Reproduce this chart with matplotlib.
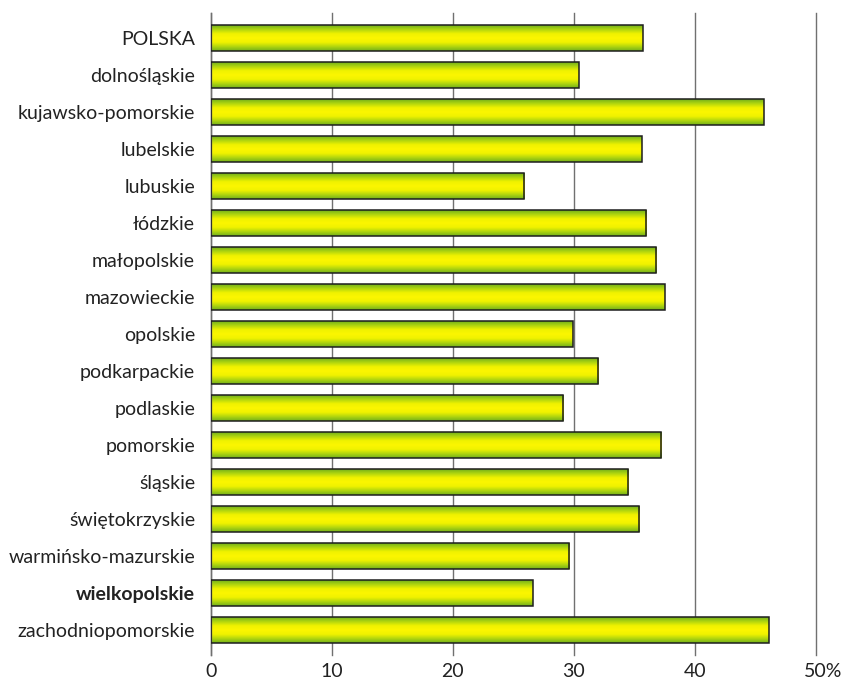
import numpy as np
import matplotlib
matplotlib.use("Agg")
import matplotlib.pyplot as plt
from matplotlib.colors import LinearSegmentedColormap
from matplotlib import transforms

# regions (top to bottom) and share in %
regions = ["POLSKA", "dolnośląskie", "kujawsko-pomorskie", "lubelskie", "lubuskie",
           "łódzkie", "małopolskie", "mazowieckie", "opolskie", "podkarpackie",
           "podlaskie", "pomorskie", "śląskie", "świętokrzyskie",
           "warmińsko-mazurskie", "wielkopolskie", "zachodniopomorskie"]
values = [35.7, 30.4, 45.7, 35.6, 25.9, 36.0, 36.8, 37.5, 29.9, 32.0,
          29.1, 37.2, 34.5, 35.4, 29.6, 26.6, 46.1]
xticks = [0, 10, 20, 30, 40, 50]
xtick_labels = ["0", "10", "20", "30", "40", "50%"]

plt.rcParams['font.family'] = ['Lato', 'DejaVu Sans']

fig = plt.figure(figsize=(8.43, 6.81), dpi=100)
ax = fig.add_axes([0.2503, 0.0382, 0.7175, 0.9427])

# green - yellow - green gradient
cmap = LinearSegmentedColormap.from_list(
    "bar", ["#72b01c", "#b2d60e", "#f0f200", "#fcf600", "#f0f200", "#b2d60e", "#72b01c"])
grad = np.linspace(0, 1, 64).reshape(-1, 1)

y = np.arange(len(regions))
h = 0.70
for yi, v in zip(y, values):
    ax.imshow(grad, extent=[0, v, yi + h / 2, yi - h / 2], aspect='auto',
              cmap=cmap, zorder=2, interpolation='bilinear')
ax.barh(y, values, height=h, color='none', edgecolor='#1e1e1e', linewidth=1.1, zorder=3)

ax.set_xlim(0, 50)
ax.set_ylim(len(regions) - 1 + 0.676, -0.676)

ax.set_xticks(xticks)
ax.set_xticklabels(xtick_labels)
ax.set_yticks(y)
ax.set_yticklabels(regions)
ax.tick_params(axis='y', length=0, pad=11.5, labelsize=14, labelcolor='#222222')
ax.tick_params(axis='x', length=0, pad=6, labelsize=14, labelcolor='#222222')

for lbl in ax.get_yticklabels():
    if lbl.get_text() == "wielkopolskie":
        lbl.set_fontweight('bold')

# shift "50%" so the number sits on the gridline
last = ax.get_xticklabels()[-1]
last.set_transform(last.get_transform() + transforms.ScaledTranslation(7 / 100, 0, fig.dpi_scale_trans))

ax.grid(axis='x', color='#707070', linewidth=1.0, zorder=0)
for gl in ax.get_xgridlines():
    gl.set_clip_on(False)
ax.set_axisbelow(True)
for s in ['top', 'right', 'bottom']:
    ax.spines[s].set_visible(False)
ax.spines['left'].set_color('#707070')
ax.spines['left'].set_linewidth(1.0)

fig.savefig("out.png", dpi=100)
